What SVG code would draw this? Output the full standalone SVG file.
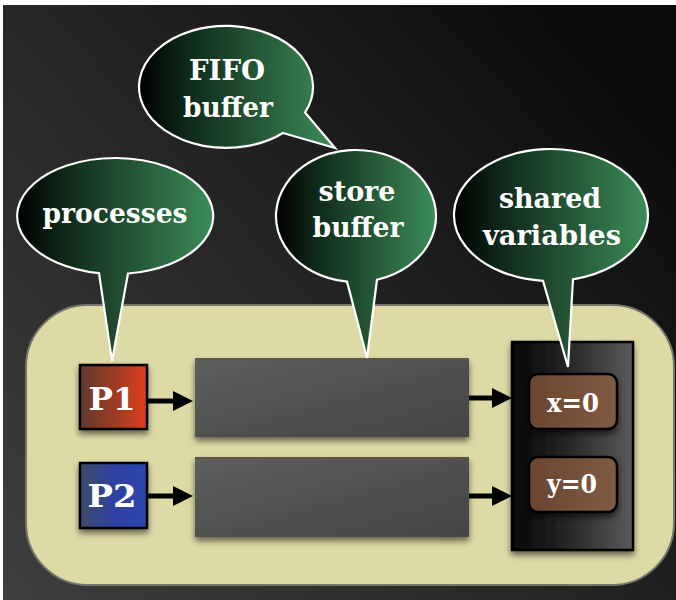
<svg xmlns="http://www.w3.org/2000/svg" width="676" height="600" viewBox="0 0 676 600">
<defs>
<linearGradient id="bg" x1="0" y1="1" x2="1" y2="0.2">
<stop offset="0" stop-color="#3e3e3e"/>
<stop offset="0.5" stop-color="#262626"/>
<stop offset="1" stop-color="#0b0b0b"/>
</linearGradient>
<linearGradient id="bub" x1="0" y1="0" x2="1" y2="0">
<stop offset="0" stop-color="#000000"/>
<stop offset="0.25" stop-color="#0f2a1a"/>
<stop offset="0.5" stop-color="#1f4a2e"/>
<stop offset="1" stop-color="#3b8c58"/>
</linearGradient>
<linearGradient id="red" x1="0" y1="0" x2="1" y2="0">
<stop offset="0" stop-color="#5e3a2c"/>
<stop offset="0.5" stop-color="#9a3a24"/>
<stop offset="1" stop-color="#e0401e"/>
</linearGradient>
<linearGradient id="blue" x1="0" y1="0" x2="1" y2="0">
<stop offset="0" stop-color="#3e4a6a"/>
<stop offset="0.5" stop-color="#2e42a0"/>
<stop offset="1" stop-color="#2c44b0"/>
</linearGradient>
<linearGradient id="gray" x1="0" y1="0" x2="1" y2="1">
<stop offset="0" stop-color="#5e5e5e"/>
<stop offset="1" stop-color="#444444"/>
</linearGradient>
<linearGradient id="mem" x1="0" y1="0" x2="1" y2="0">
<stop offset="0" stop-color="#050505"/>
<stop offset="0.5" stop-color="#2a2a2a"/>
<stop offset="1" stop-color="#5a5a5a"/>
</linearGradient>
<linearGradient id="brown" x1="0" y1="0" x2="1" y2="0">
<stop offset="0" stop-color="#6a4530"/>
<stop offset="1" stop-color="#805c42"/>
</linearGradient>
<filter id="sh" x="-10%" y="-10%" width="125%" height="135%">
<feDropShadow dx="0" dy="4" stdDeviation="3" flood-color="#000" flood-opacity="0.55"/>
</filter>
<marker id="ah" markerUnits="userSpaceOnUse" markerWidth="20" markerHeight="20" refX="8" refY="10" orient="auto">
<path d="M0,0 L20,10 L0,20 Z" fill="#000"/>
</marker>
<style>
.bubble{fill:url(#bub);stroke:#ffffff;stroke-width:2.2;stroke-linejoin:miter}
.bt{font-family:"DejaVu Serif","Liberation Serif",serif;font-weight:bold;font-size:28px;fill:#ffffff;text-anchor:middle}
.pt{font-family:"DejaVu Serif","Liberation Serif",serif;font-weight:bold;font-size:32px;fill:#ffffff;text-anchor:middle}
.vt{font-family:"DejaVu Serif","Liberation Serif",serif;font-weight:bold;font-size:26px;fill:#ffffff;text-anchor:middle}
.conn{stroke:#000;stroke-width:5;fill:none;marker-end:url(#ah)}
.buf{fill:url(#gray);filter:url(#sh)}
</style>
</defs>
<rect x="0" y="0" width="676" height="600" fill="#ffffff"/>
<rect x="3" y="5" width="673" height="595" fill="url(#bg)"/>
<g id="system">
<rect x="26" y="305" width="648" height="280" rx="62" ry="62" fill="#dedaa6" stroke="#75756c" stroke-width="2"/>
</g>
<g id="buffer1"><rect class="buf" x="195" y="358" width="274" height="79"/><rect x="195" y="358" width="274" height="2" fill="#5c5444"/></g>
<g id="buffer2"><rect class="buf" x="195" y="457" width="274" height="80"/><rect x="195" y="457" width="274" height="2" fill="#5c5444"/></g>
<g id="memory">
<rect x="512" y="342" width="121" height="208" fill="url(#mem)" stroke="#000" stroke-width="2.5" filter="url(#sh)"/>
</g>
<g id="x0">
<rect x="529" y="374" width="88" height="55" rx="9" fill="url(#brown)" stroke="#000" stroke-width="2.5" filter="url(#sh)"/>
<text class="vt" x="573" y="412" textLength="52" lengthAdjust="spacingAndGlyphs">x=0</text>
</g>
<g id="y0">
<rect x="529" y="457" width="88" height="55" rx="9" fill="url(#brown)" stroke="#000" stroke-width="2.5" filter="url(#sh)"/>
<text class="vt" x="572" y="493" textLength="50" lengthAdjust="spacingAndGlyphs">y=0</text>
</g>
<g id="p1">
<rect x="80" y="365" width="67" height="64" fill="url(#red)" stroke="#000" stroke-width="2.5" filter="url(#sh)"/>
<text class="pt" x="112" y="410" textLength="47" lengthAdjust="spacingAndGlyphs">P1</text>
</g>
<g id="p2">
<rect x="80" y="463" width="67" height="65" fill="url(#blue)" stroke="#000" stroke-width="2.5" filter="url(#sh)"/>
<text class="pt" x="112" y="507" textLength="49" lengthAdjust="spacingAndGlyphs">P2</text>
</g>
<g id="connectors">
<line class="conn" x1="147" y1="401" x2="181" y2="401"/>
<line class="conn" x1="147" y1="496" x2="181" y2="496"/>
<line class="conn" x1="469" y1="398" x2="500" y2="398"/>
<line class="conn" x1="469" y1="496" x2="500" y2="496"/>
</g>
<g id="bubble-fifo">
<path class="bubble" d="M283,133 L335,148 L305,112.5 A87,61 0 1 0 283,133 Z"/>
<text class="bt" x="227" y="80" textLength="76" lengthAdjust="spacingAndGlyphs">FIFO</text>
<text class="bt" x="228" y="117" textLength="90" lengthAdjust="spacingAndGlyphs">buffer</text>
</g>
<g id="bubble-processes">
<path class="bubble" d="M99,273.2 L112,361 L128,273.5 A98,58 0 1 0 99,273.2 Z"/>
<text class="bt" x="115" y="223" textLength="145" lengthAdjust="spacingAndGlyphs">processes</text>
</g>
<g id="bubble-store">
<path class="bubble" d="M347,281.6 L367,358 L377,279.7 A80,66 0 1 0 347,281.6 Z"/>
<text class="bt" x="357" y="201" textLength="77" lengthAdjust="spacingAndGlyphs">store</text>
<text class="bt" x="358" y="237" textLength="91" lengthAdjust="spacingAndGlyphs">buffer</text>
</g>
<g id="bubble-shared">
<path class="bubble" d="M543,280.8 L568,367 L573,279.3 A97,66 0 1 0 543,280.8 Z"/>
<text class="bt" x="550" y="208" textLength="102" lengthAdjust="spacingAndGlyphs">shared</text>
<text class="bt" x="552" y="245" textLength="138" lengthAdjust="spacingAndGlyphs">variables</text>
</g>
</svg>
